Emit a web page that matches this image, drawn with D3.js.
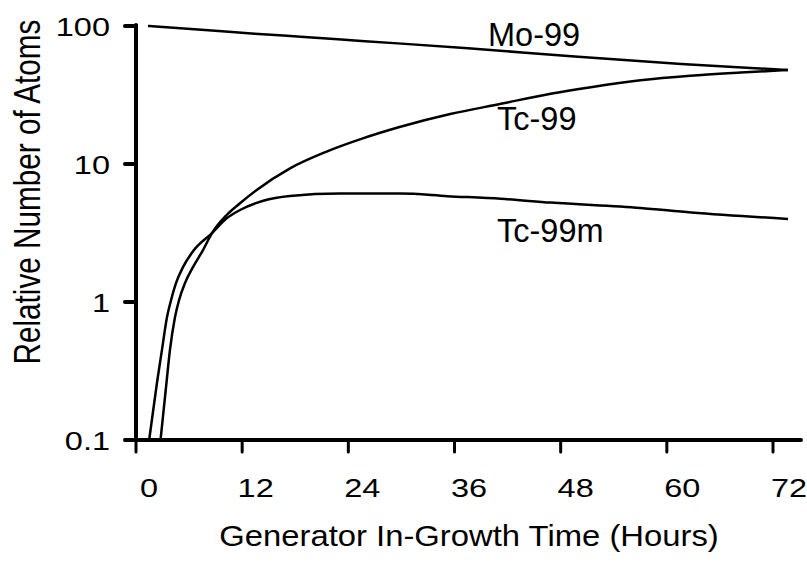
<!DOCTYPE html>
<html>
<head>
<meta charset="utf-8">
<script src="https://cdn.jsdelivr.net/npm/d3@7/dist/d3.min.js"></script>
<style>
  html, body { margin: 0; padding: 0; background: #fff; }
  svg { display: block; }
  text { font-family: "Liberation Sans", Arial, Helvetica, sans-serif; fill: #000; }
</style>
</head>
<body>
<svg id="chart" width="807" height="565"></svg>
<script>
// ---- Data ----
const xTickValues = [0, 12, 24, 36, 48, 60, 72];
const yTickValues = [0.1, 1, 10, 100];
const yTickLabels = ["0.1", "1", "10", "100"];

const moTime  = [0, 6, 12, 18, 24, 36, 48, 60, 72];
const moValue = [100, 94, 88, 83, 78, 69, 60, 53, 48];

const tc99Time  = [1.41, 2.08, 2.47, 3.04, 3.49, 4.16, 5.06, 6.19, 7.2, 8.85, 10.35, 12.23, 15.98, 20.1, 24, 28.4, 34, 39.7, 45.3, 50, 55.4, 61, 66.7, 72];
const tc99Value = [0.1, 0.26, 0.45, 0.78, 1.03, 1.37, 1.79, 2.38, 3.16, 4.27, 5.19, 6.48, 9.3, 12.3, 15.2, 18.6, 23, 27.3, 32.3, 36.2, 40.4, 43.6, 46, 48];

const tc99mTime  = [0.13, 1.01, 1.57, 2.14, 2.59, 3.15, 3.94, 5.17, 7.2, 8.85, 10.35, 12.97, 15.97, 21.6, 28.4, 33.7, 39.7, 45.3, 55.4, 61.1, 72];
const tc99mValue = [0.1, 0.26, 0.45, 0.78, 1.03, 1.37, 1.79, 2.38, 3.16, 4.04, 4.64, 5.42, 5.86, 6.1, 6.1, 5.85, 5.6, 5.25, 4.8, 4.45, 4.0];

const seriesNames = ["Mo-99", "Tc-99", "Tc-99m"];

// ---- Scales ----
const svg = d3.select("#chart");
const x = d3.scaleLinear().domain([0, 72]).range([148, 788]);        // data + tick labels
const xTick = d3.scaleLinear().domain([0, 72]).range([136, 773]);    // tick marks
const y = d3.scaleLog().domain([0.1, 100]).range([440, 26]);

const SX = 1.25; // horizontal stretch of axis text in the reference

// ---- Axes ----
const axisX0 = xTick(0);
const g = svg.append("g").attr("stroke", "#000").attr("stroke-linecap", "round");
g.append("line").attr("x1", axisX0).attr("x2", axisX0)
  .attr("y1", y(100) - 1).attr("y2", y(0.1)).attr("stroke-width", 4);
g.append("line").attr("x1", 126).attr("x2", 801)
  .attr("y1", y(0.1)).attr("y2", y(0.1)).attr("stroke-width", 4);
g.selectAll(".yt").data(yTickValues).enter().append("line")
  .attr("x1", axisX0 - 11).attr("x2", axisX0)
  .attr("y1", d => y(d)).attr("y2", d => y(d)).attr("stroke-width", 4);
g.selectAll(".xt").data(xTickValues).enter().append("line")
  .attr("x1", d => xTick(d)).attr("x2", d => xTick(d))
  .attr("y1", y(0.1)).attr("y2", y(0.1) + 12).attr("stroke-width", 3);

// tick labels
svg.selectAll(".ytl").data(yTickValues).enter().append("text")
  .attr("transform", d => `translate(110,${y(d) + 9.5}) scale(${SX},1)`)
  .attr("text-anchor", "end").attr("font-size", 26)
  .text((d, i) => yTickLabels[i]);
svg.selectAll(".xtl").data(xTickValues).enter().append("text")
  .attr("transform", d => `translate(${x(d) + 1},497) scale(${SX},1)`)
  .attr("text-anchor", "middle").attr("font-size", 26)
  .text(d => d);

// axis titles
svg.append("text")
  .attr("transform", `translate(469,546) scale(1.12,1)`)
  .attr("text-anchor", "middle").attr("font-size", 29.3)
  .text("Generator In-Growth Time (Hours)");
svg.append("text")
  .attr("transform", `translate(40,192) scale(1.27,1) rotate(-90)`)
  .attr("text-anchor", "middle").attr("font-size", 29.7)
  .text("Relative Number of Atoms");

// ---- Curves ----
const line = d3.line().x(d => x(d[0])).y(d => y(d[1])).curve(d3.curveMonotoneX);
const series = [
  d3.zip(moTime, moValue),
  d3.zip(tc99Time, tc99Value),
  d3.zip(tc99mTime, tc99mValue)
];
svg.append("g").selectAll("path").data(series).enter().append("path")
  .attr("d", line).attr("fill", "none").attr("stroke", "#000")
  .attr("stroke-width", 2.5).attr("stroke-linejoin", "round");

// series labels
const labelPos = [[488, 46], [497, 130], [497, 242]];
svg.selectAll(".sl").data(seriesNames).enter().append("text")
  .attr("x", (d, i) => labelPos[i][0]).attr("y", (d, i) => labelPos[i][1])
  .attr("font-size", 32.5)
  .text(d => d);
</script>
</body>
</html>
